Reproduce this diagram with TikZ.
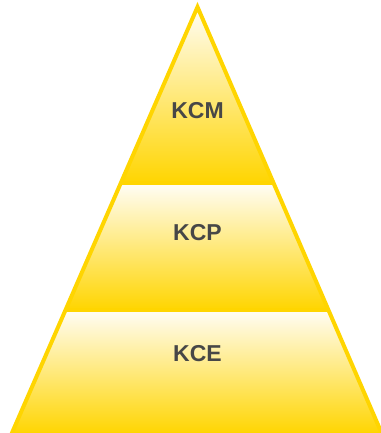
\documentclass[tikz,border=0pt]{standalone}
\usepackage{fontspec}
\setmainfont{Liberation Sans}
\usepackage{tikz}
\definecolor{gold500}{HTML}{FFD500}
\definecolor{cream50}{HTML}{FFFDF6}
\definecolor{gray700}{HTML}{474747}
\usetikzlibrary{calc}
\tikzstyle{bande}=[top color=cream50, bottom color=gold500]
\tikzstyle{contour}=[draw=gold500, line width=4pt, line join=miter]
\tikzstyle{niveau}=[font=\bfseries\fontsize{23}{27}\selectfont, text=gray700]

\begin{document}
\begin{tikzpicture}[x=1pt, y=-1pt]
	\useasboundingbox (0,0) rectangle (380,433);
	\coordinate (sommet) at (197.5,7);
	\coordinate (gb) at (11.5,434);
	\coordinate (db) at (382,434);
	\coordinate (g1) at ($(sommet)!0.413!(gb)$);
	\coordinate (d1) at ($(sommet)!0.413!(db)$);
	\coordinate (g2) at ($(sommet)!0.709!(gb)$);
	\coordinate (d2) at ($(sommet)!0.709!(db)$);
	\shade[bande] (sommet) -- (d1) -- (g1) -- cycle;
	\shade[bande] (g1) -- (d1) -- (d2) -- (g2) -- cycle;
	\shade[bande] (g2) -- (d2) -- (db) -- (gb) -- cycle;
	\path[contour] (gb) -- (sommet) -- (db) -- cycle;
	\path[contour] (g1) -- (d1);
	\path[contour] (g2) -- (d2);
	\node[niveau] (kcm) at (197.5,111){KCM};
	\node[niveau] (kcp) at (197.5,233){KCP};
	\node[niveau] (kce) at (197.5,354){KCE};
\end{tikzpicture}
\end{document}
